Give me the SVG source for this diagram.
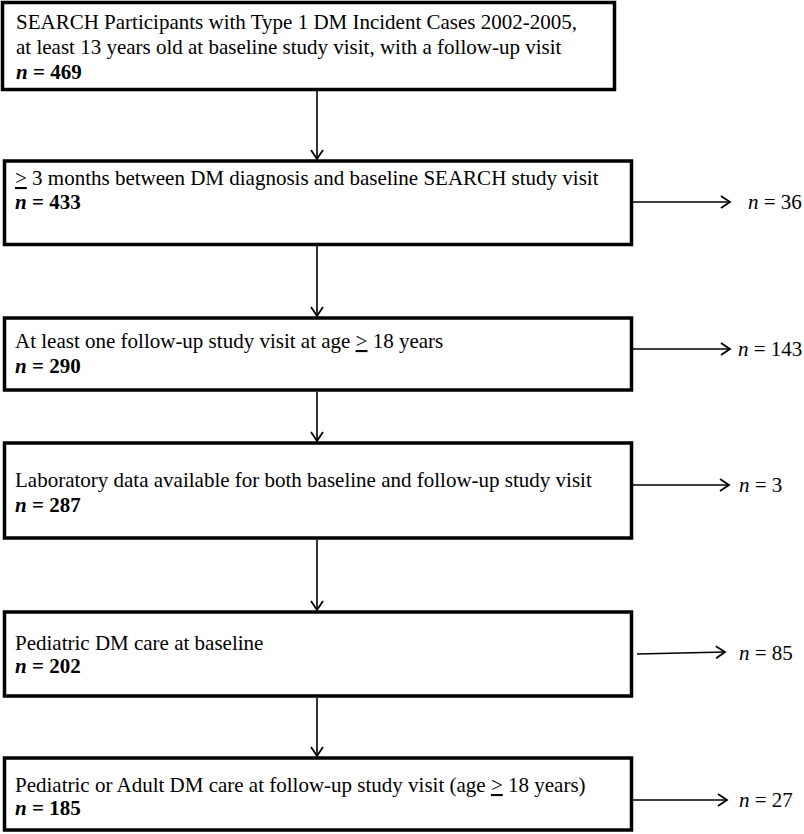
<svg xmlns="http://www.w3.org/2000/svg" width="804" height="834" viewBox="0 0 804 834">
<style>
.box{fill:#fff;stroke:#000;stroke-width:3.5}
.t{font-family:"Liberation Serif","Times New Roman",serif;font-size:21px;fill:#000}
.b{font-weight:bold}
.i{font-style:italic}
.c{stroke:#000;stroke-width:1.6;fill:none}
</style>
<defs>
<marker id="ah" markerWidth="12" markerHeight="14" refX="10" refY="7" orient="auto" markerUnits="userSpaceOnUse">
<path d="M1,1 L10,7 L1,13" fill="none" stroke="#000" stroke-width="1.8"/>
</marker>
</defs>
<rect width="804" height="834" fill="#fff"/>
<g id="connectors">
<line class="c" x1="317" y1="91" x2="317" y2="159" marker-end="url(#ah)"/>
<line class="c" x1="317" y1="246" x2="317" y2="316" marker-end="url(#ah)"/>
<line class="c" x1="317" y1="392" x2="317" y2="441" marker-end="url(#ah)"/>
<line class="c" x1="317" y1="540" x2="317" y2="610" marker-end="url(#ah)"/>
<line class="c" x1="317" y1="698" x2="317" y2="756" marker-end="url(#ah)"/>
<line class="c" x1="633" y1="202" x2="730" y2="202" marker-end="url(#ah)"/>
<line class="c" x1="633" y1="349" x2="730" y2="349" marker-end="url(#ah)"/>
<line class="c" x1="633" y1="485" x2="729" y2="485" marker-end="url(#ah)"/>
<line class="c" x1="637" y1="654" x2="725" y2="652" marker-end="url(#ah)"/>
<line class="c" x1="633" y1="800" x2="727" y2="800" marker-end="url(#ah)"/>
</g>
<g id="n1">
<rect class="box" x="2.5" y="2.5" width="612" height="87"/>
<text class="t" x="16" y="29">SEARCH Participants with Type 1 DM Incident Cases 2002-2005,</text>
<text class="t" x="16" y="54">at least 13 years old at baseline study visit, with a follow-up visit</text>
<text class="t b" x="16" y="79"><tspan class="i">n</tspan> = 469</text>
</g>
<g id="n2">
<rect class="box" x="4.5" y="161" width="627" height="83.5"/>
<text class="t" x="15" y="185"><tspan text-decoration="underline">&gt;</tspan> 3 months between DM diagnosis and baseline SEARCH study visit</text>
<text class="t b" x="15" y="209"><tspan class="i">n</tspan> = 433</text>
</g>
<g id="n3">
<rect class="box" x="4.5" y="318" width="627" height="72"/>
<text class="t" x="15" y="348">At least one follow-up study visit at age <tspan text-decoration="underline">&gt;</tspan> 18 years</text>
<text class="t b" x="15" y="373"><tspan class="i">n</tspan> = 290</text>
</g>
<g id="n4">
<rect class="box" x="4.5" y="443" width="627" height="95"/>
<text class="t" x="15" y="487">Laboratory data available for both baseline and follow-up study visit</text>
<text class="t b" x="15" y="512"><tspan class="i">n</tspan> = 287</text>
</g>
<g id="n5">
<rect class="box" x="4.5" y="612" width="627" height="84"/>
<text class="t" x="15" y="650">Pediatric DM care at baseline</text>
<text class="t b" x="15" y="673"><tspan class="i">n</tspan> = 202</text>
</g>
<g id="n6">
<rect class="box" x="4.5" y="758" width="627" height="72"/>
<text class="t" x="15" y="792">Pediatric or Adult DM care at follow-up study visit (age <tspan text-decoration="underline">&gt;</tspan> 18 years)</text>
<text class="t b" x="15" y="815"><tspan class="i">n</tspan> = 185</text>
</g>
<g id="labels">
<text class="t" x="748" y="209"><tspan class="i">n</tspan> = 36</text>
<text class="t" x="738" y="356"><tspan class="i">n</tspan> = 143</text>
<text class="t" x="739" y="492"><tspan class="i">n</tspan> = 3</text>
<text class="t" x="739" y="660"><tspan class="i">n</tspan> = 85</text>
<text class="t" x="739" y="807"><tspan class="i">n</tspan> = 27</text>
</g>
</svg>
